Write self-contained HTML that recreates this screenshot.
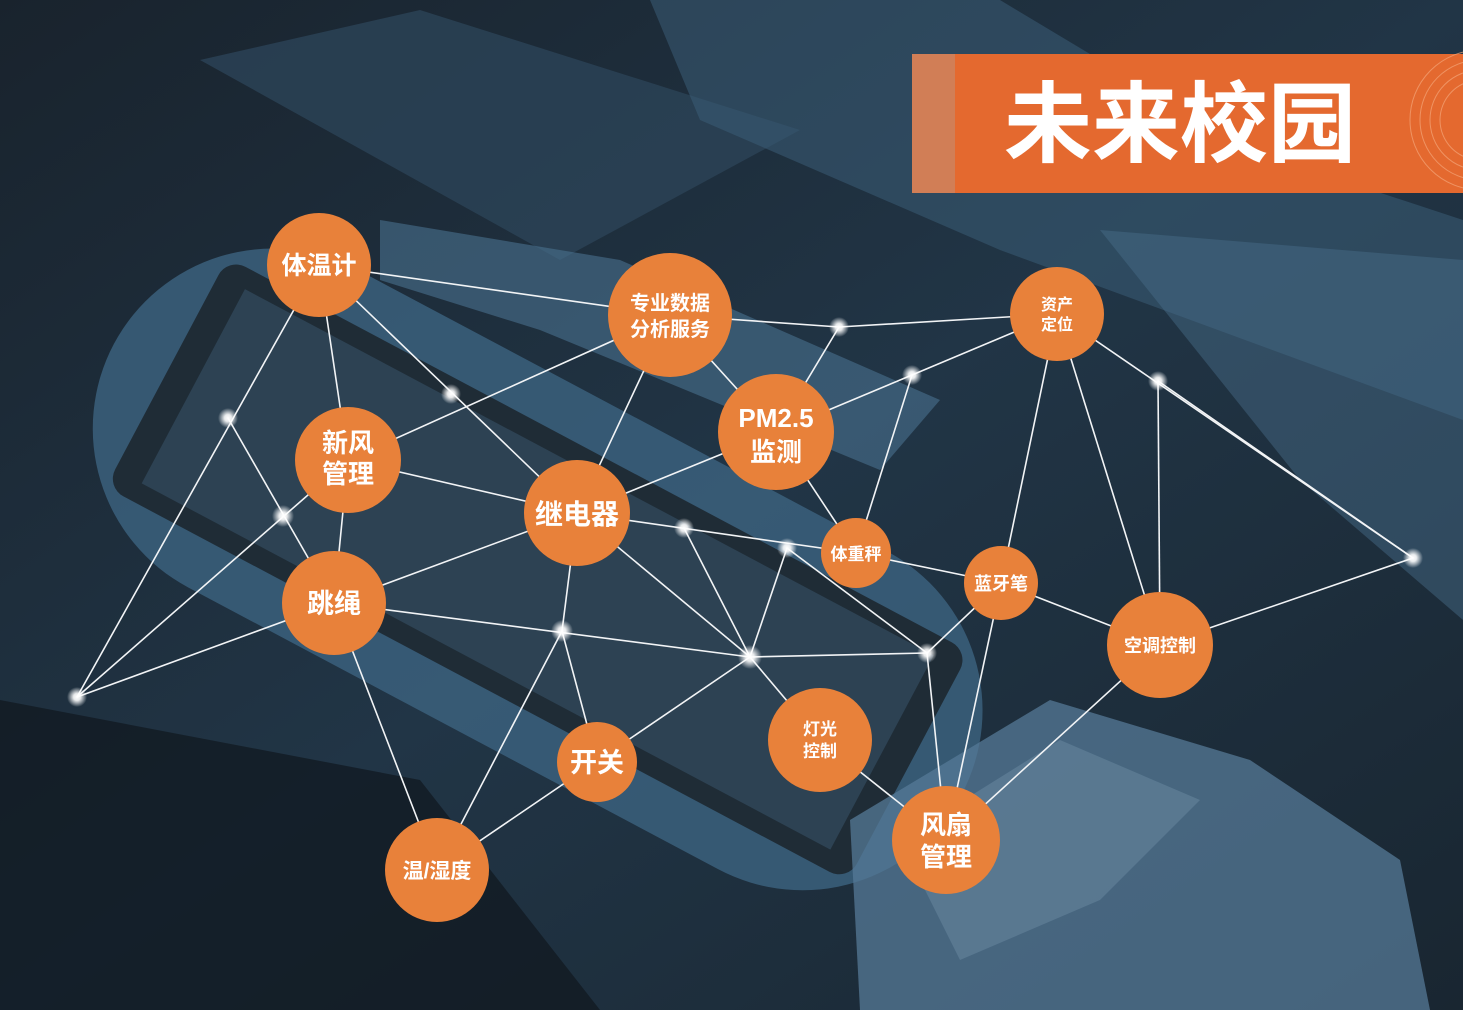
<!DOCTYPE html>
<html><head><meta charset="utf-8"><style>
html,body{margin:0;padding:0;background:#16202a;}
svg{display:block}
</style></head><body>
<svg width="1463" height="1010" viewBox="0 0 1463 1010" xmlns="http://www.w3.org/2000/svg">
<defs>
<radialGradient id="glow"><stop offset="0" stop-color="#fff"/><stop offset="0.35" stop-color="#fff" stop-opacity="0.9"/><stop offset="1" stop-color="#fff" stop-opacity="0"/></radialGradient>
<linearGradient id="bg" x1="0" y1="0" x2="1" y2="1"><stop offset="0" stop-color="#19232d"/><stop offset="0.5" stop-color="#213546"/><stop offset="1" stop-color="#192631"/></linearGradient>
</defs>
<rect width="1463" height="1010" fill="url(#bg)"/>
<polygon points="200,60 420,10 800,130 560,260" fill="#2c4457" opacity="0.8"/>
<polygon points="650,0 1000,0 1250,150 1463,220 1463,420 1000,250 700,120" fill="#3a5c77" opacity="0.55"/>
<polygon points="1100,230 1463,260 1463,620 1300,480" fill="#4a6f8c" opacity="0.45"/>
<g transform="rotate(28 520 560)">
<rect x="60" y="380" width="960" height="360" rx="180" fill="#3b607d" opacity="0.85"/>
<rect x="120" y="430" width="840" height="260" rx="20" fill="#1f2c36"/>
<rect x="150" y="450" width="780" height="220" fill="#2d4253"/>
</g>
<polygon points="380,220 620,260 940,400 880,470 540,330 380,280" fill="#4a7290" opacity="0.6"/>
<polygon points="850,820 1050,700 1250,760 1400,860 1430,1010 860,1010" fill="#557a97" opacity="0.75"/>
<polygon points="900,840 1060,740 1200,800 1100,900 960,960" fill="#7a9ab3" opacity="0.35"/>
<polygon points="0,700 420,780 600,1010 0,1010" fill="#10171e" opacity="0.7"/>
<rect x="912" y="54" width="551" height="139" fill="#e4692f"/>
<rect x="912" y="54" width="43" height="139" fill="#c98866" opacity="0.7"/>
<g fill="none" stroke="#f4a679" stroke-width="1" opacity="0.7">
<circle cx="1480" cy="120" r="40"/><circle cx="1480" cy="120" r="50"/><circle cx="1480" cy="120" r="60"/><circle cx="1480" cy="120" r="70"/>
</g>
<text x="1180" y="155" text-anchor="middle" font-family="'Noto Sans CJK SC',sans-serif" font-weight="bold" font-size="88" fill="#fff">未来校园</text>
<g stroke="#f2f4f6" stroke-width="1.6" fill="none">
<line x1="319" y1="265" x2="670" y2="315"/>
<line x1="319" y1="265" x2="77" y2="697"/>
<line x1="319" y1="265" x2="348" y2="460"/>
<line x1="319" y1="265" x2="577" y2="513"/>
<line x1="670" y1="315" x2="348" y2="460"/>
<line x1="228" y1="418" x2="334" y2="603"/>
<line x1="348" y1="460" x2="77" y2="697"/>
<line x1="348" y1="460" x2="334" y2="603"/>
<line x1="348" y1="460" x2="577" y2="513"/>
<line x1="334" y1="603" x2="577" y2="513"/>
<line x1="334" y1="603" x2="77" y2="697"/>
<line x1="334" y1="603" x2="750" y2="657"/>
<line x1="334" y1="603" x2="437" y2="870"/>
<line x1="577" y1="513" x2="670" y2="315"/>
<line x1="577" y1="513" x2="776" y2="432"/>
<line x1="577" y1="513" x2="856" y2="553"/>
<line x1="577" y1="513" x2="562" y2="631"/>
<line x1="577" y1="513" x2="750" y2="657"/>
<line x1="684" y1="528" x2="750" y2="657"/>
<line x1="787" y1="548" x2="750" y2="657"/>
<line x1="787" y1="548" x2="927" y2="653"/>
<line x1="670" y1="315" x2="839" y2="327"/>
<line x1="839" y1="327" x2="1057" y2="314"/>
<line x1="839" y1="327" x2="776" y2="432"/>
<line x1="670" y1="315" x2="776" y2="432"/>
<line x1="776" y1="432" x2="912" y2="375"/>
<line x1="912" y1="375" x2="1057" y2="314"/>
<line x1="912" y1="375" x2="856" y2="553"/>
<line x1="776" y1="432" x2="856" y2="553"/>
<line x1="856" y1="553" x2="1001" y2="583"/>
<line x1="1057" y1="314" x2="1001" y2="583"/>
<line x1="1057" y1="314" x2="1160" y2="645"/>
<line x1="1057" y1="314" x2="1413" y2="558"/>
<line x1="1158" y1="381" x2="1160" y2="645"/>
<line x1="1158" y1="381" x2="1413" y2="558"/>
<line x1="1160" y1="645" x2="1413" y2="558"/>
<line x1="1001" y1="583" x2="1160" y2="645"/>
<line x1="1001" y1="583" x2="927" y2="653"/>
<line x1="1001" y1="583" x2="946" y2="840"/>
<line x1="927" y1="653" x2="946" y2="840"/>
<line x1="927" y1="653" x2="750" y2="657"/>
<line x1="1160" y1="645" x2="946" y2="840"/>
<line x1="750" y1="657" x2="820" y2="740"/>
<line x1="820" y1="740" x2="946" y2="840"/>
<line x1="437" y1="870" x2="750" y2="657"/>
<line x1="562" y1="631" x2="597" y2="762"/>
<line x1="562" y1="631" x2="437" y2="870"/>
</g>
<g fill="url(#glow)">
<circle cx="228" cy="418" r="10"/><circle cx="451" cy="394" r="10"/><circle cx="283" cy="516" r="11"/><circle cx="77" cy="697" r="10"/>
<circle cx="839" cy="327" r="10"/><circle cx="912" cy="375" r="10"/><circle cx="1158" cy="381" r="10"/><circle cx="1413" cy="558" r="10"/>
<circle cx="684" cy="528" r="10"/><circle cx="787" cy="548" r="10"/><circle cx="562" cy="631" r="11"/><circle cx="750" cy="657" r="12"/><circle cx="927" cy="653" r="10"/>
</g>
<g fill="#e8813a">
<circle cx="319" cy="265" r="52"/><circle cx="670" cy="315" r="62"/><circle cx="1057" cy="314" r="47"/>
<circle cx="776" cy="432" r="58"/><circle cx="348" cy="460" r="53"/><circle cx="577" cy="513" r="53"/>
<circle cx="856" cy="553" r="35"/><circle cx="1001" cy="583" r="37"/><circle cx="1160" cy="645" r="53"/>
<circle cx="334" cy="603" r="52"/><circle cx="597" cy="762" r="40"/><circle cx="820" cy="740" r="52"/>
<circle cx="946" cy="840" r="54"/><circle cx="437" cy="870" r="52"/>
</g>
<g fill="#fff" font-family="'Liberation Sans','Noto Sans CJK SC',sans-serif" font-weight="bold" text-anchor="middle">
<text x="319" y="274" font-size="25">体温计</text>
<text x="670" y="310" font-size="20">专业数据</text><text x="670" y="336" font-size="20">分析服务</text>
<text x="1057" y="310" font-size="16">资产</text><text x="1057" y="330" font-size="16">定位</text>
<text x="776" y="427" font-size="26">PM2.5</text><text x="776" y="461" font-size="26">监测</text>
<text x="348" y="452" font-size="26">新风</text><text x="348" y="483" font-size="26">管理</text>
<text x="577" y="524" font-size="28">继电器</text>
<text x="856" y="560" font-size="17">体重秤</text>
<text x="1001" y="590" font-size="18">蓝牙笔</text>
<text x="1160" y="652" font-size="18">空调控制</text>
<text x="334" y="613" font-size="27">跳绳</text>
<text x="597" y="772" font-size="27">开关</text>
<text x="820" y="735" font-size="17">灯光</text><text x="820" y="757" font-size="17">控制</text>
<text x="946" y="834" font-size="26">风扇</text><text x="946" y="866" font-size="26">管理</text>
<text x="437" y="878" font-size="21">温/湿度</text>
</g>
</svg>
</body></html>
